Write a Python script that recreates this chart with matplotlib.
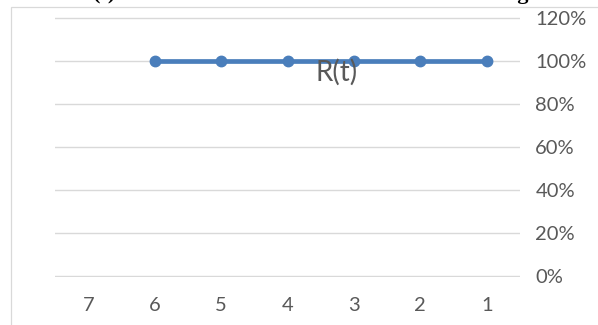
import matplotlib
matplotlib.use("Agg")
import matplotlib.pyplot as plt
import matplotlib.patches as mpatches
import numpy as np

# dados do grafico
categorias = ['7', '6', '5', '4', '3', '2', '1']
valores = [np.nan, 1.0, 1.0, 1.0, 1.0, 1.0, 1.0]
y_ticks = [0.0, 0.2, 0.4, 0.6, 0.8, 1.0, 1.2]
y_labels = ['0%', '20%', '40%', '60%', '80%', '100%', '120%']
nome_serie = 'R(t)'

cinza = '#595959'
azul = '#4a7ebb'

plt.rcParams['font.family'] = ['Lato', 'DejaVu Sans']

fig = plt.figure(figsize=(5.98, 3.25), dpi=100)
W, H = 598.0, 325.0

# moldura do grafico (cortada pela imagem)
moldura = mpatches.Rectangle((10.5 / W, -0.1), 1.2, (H - 6.5) / H + 0.1,
                             transform=fig.transFigure, fill=False,
                             edgecolor='#d9d9d9', linewidth=0.9)
fig.patches.append(moldura)

# restos do titulo cortado no topo
fig.text(93 / W, 1 + 1.0 / H, '(t)', ha='left', va='baseline',
         fontsize=16, fontweight='bold', family='Liberation Serif', color='black')
fig.text(529 / W, 1 + 1.0 / H, 'during', ha='right', va='baseline',
         fontsize=16, fontweight='bold', family='Liberation Serif', color='black')

# margem pequena para as linhas de grade das pontas nao serem cortadas
folga = 0.005
px_por_unidade = (276 - 17.6) / 1.2
ax = fig.add_axes([55 / W, (H - 276 - folga * px_por_unidade) / H, (520 - 55) / W,
                   (276 - 17.6 + 2 * folga * px_por_unidade) / H])
x = np.arange(len(categorias))

ax.plot(x, valores, '-o', color=azul, linewidth=3.4, markersize=7.5, zorder=3)

ax.set_xlim(-0.5, len(categorias) - 0.5)
ax.set_ylim(-folga, 1.2 + folga)
ax.set_xticks(x)
ax.set_xticklabels(categorias)
ax.set_yticks(y_ticks)
ax.set_yticklabels(y_labels)
ax.yaxis.tick_right()
ax.tick_params(axis='both', length=0, labelcolor=cinza, labelsize=14.5)
ax.tick_params(axis='y', pad=11)
ax.tick_params(axis='x', pad=14)

ax.grid(axis='y', color='#d9d9d9', linewidth=1.0)
ax.set_axisbelow(True)
for s in ax.spines.values():
    s.set_visible(False)
ax.patch.set_alpha(0.0)

ax.text(3.745, 0.907, nome_serie, ha='center', va='baseline', fontsize=20,
        color=cinza, zorder=4)

fig.savefig('out.png', dpi=100)
